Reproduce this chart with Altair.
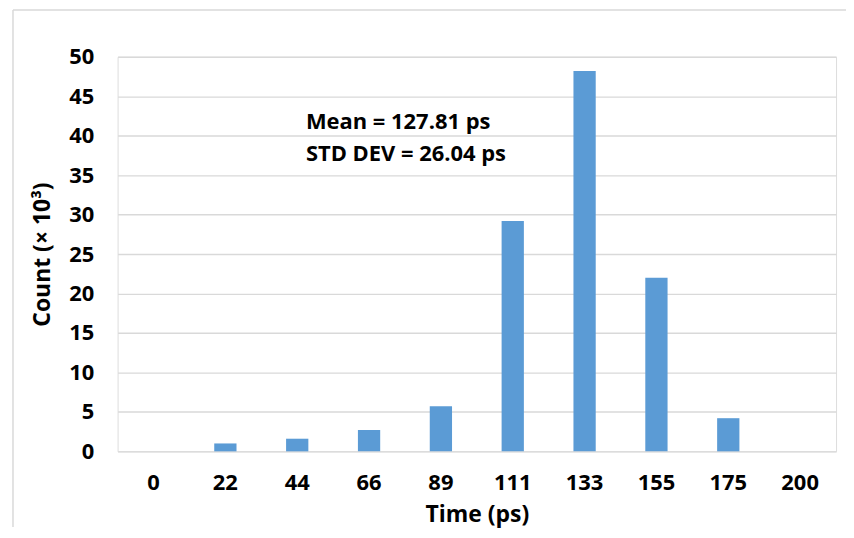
import altair as alt
import pandas as pd

times = ["0", "22", "44", "66", "89", "111", "133", "155", "175", "200"]
counts = [0, 1.0, 1.6, 2.7, 5.7, 29.2, 48.2, 22.0, 4.2, 0]
y_ticks = [0, 5, 10, 15, 20, 25, 30, 35, 40, 45, 50]
notes = ["Mean = 127.81 ps", "STD DEV = 26.04 ps"]

FONT = "Open Sans"
GRID = "#d9d9d9"

df = pd.DataFrame({"time": times, "count": counts})

bars = alt.Chart(df).mark_bar(color="#5b9bd5").encode(
    x=alt.X(
        "time:N",
        sort=times,
        title="Time (ps)",
        scale=alt.Scale(paddingInner=0.69, paddingOuter=0.345),
        axis=alt.Axis(
            labelAngle=0, domain=False, ticks=False, labelPadding=21,
            labelFont=FONT, labelFontSize=22, labelFontWeight="bold", labelColor="#000000",
            titleFont=FONT, titleFontSize=23, titleFontWeight="bold", titleColor="#000000",
            titlePadding=10,
        ),
    ),
    y=alt.Y(
        "count:Q",
        title="Count (× 10³)",
        scale=alt.Scale(domain=[0, 50], nice=False),
        axis=alt.Axis(
            values=y_ticks, domain=False, ticks=False, labelPadding=24,
            grid=True, gridColor=GRID, gridWidth=1.4,
            labelFont=FONT, labelFontSize=22, labelFontWeight="bold", labelColor="#000000",
            titleFont=FONT, titleFontSize=23, titleFontWeight="bold", titleColor="#000000",
            titlePadding=14,
        ),
    ),
)

note_df = pd.DataFrame({"note": ["\n".join(notes)]})
annot = alt.Chart(note_df).mark_text(
    align="left", baseline="alphabetic", lineBreak="\n", lineHeight=32,
    font=FONT, fontSize=22, fontWeight="bold", color="#000000",
).encode(text="note:N", x=alt.value(189), y=alt.value(73))

frame_df = pd.DataFrame({"k": [0]})
frame_left = alt.Chart(frame_df).mark_rule(color=GRID, strokeWidth=1.5).encode(
    x=alt.value(-105), y=alt.value(-47), y2=alt.value(472)
)
frame_top = alt.Chart(frame_df).mark_rule(color=GRID, strokeWidth=1.5).encode(
    x=alt.value(-105), x2=alt.value(731), y=alt.value(-47)
)

chart = alt.layer(frame_left, frame_top, bars, annot).properties(
    width=721, height=396,
    autosize=alt.AutoSizeParams(type="none"),
    padding={"left": 110, "top": 48, "right": 10, "bottom": 76},
).configure_view(stroke=None).configure(background="#ffffff")

chart.save("out.html", embed_options={"renderer": "svg", "actions": False})
